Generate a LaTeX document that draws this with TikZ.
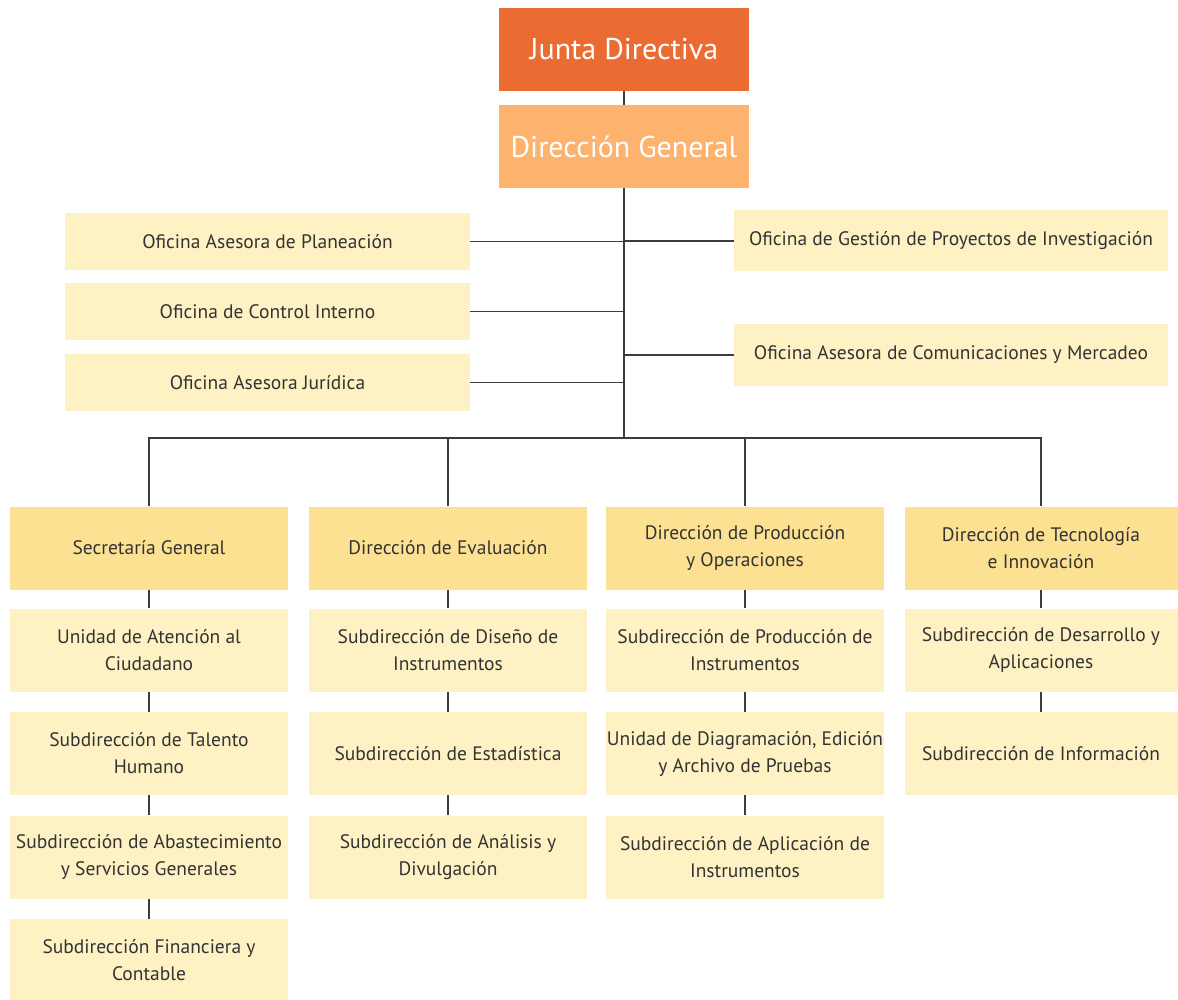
\documentclass[tikz,border=0pt]{standalone}
\usepackage{fontspec}
\setmainfont{PT Sans}
\usetikzlibrary{shapes,arrows,positioning}
\definecolor{juntaorange}{RGB}{235,108,51}
\definecolor{dirorange}{RGB}{253,178,109}
\definecolor{headyellow}{RGB}{253,225,146}
\definecolor{paleyellow}{RGB}{254,242,197}
\definecolor{textgray}{RGB}{51,51,51}
\definecolor{linegray}{RGB}{60,60,60}
\tikzstyle{topbox} = [rectangle, fill=juntaorange, text=white, inner sep=0pt,
    minimum width=250pt, minimum height=83pt, font=\fontsize{30}{35}\selectfont]
\tikzstyle{office} = [rectangle, fill=paleyellow, text=textgray, inner sep=0pt,
    minimum height=57pt, font=\fontsize{19.5}{27}\selectfont]
\tikzstyle{head} = [rectangle, fill=headyellow, text=textgray, inner sep=0pt, align=center,
    minimum width=278pt, minimum height=83pt, font=\fontsize{19.5}{27}\selectfont]
\tikzstyle{unit} = [head, fill=paleyellow]
\tikzstyle{link} = [draw, line width=1.4pt, linegray]

\begin{document}
\begin{tikzpicture}[x=1pt, y=-1pt, node distance = 103.5pt]
    \useasboundingbox (0,0) rectangle (1178,1000);
    % top of the chart
    \node[topbox] (junta) at (624,49.5) {Junta Directiva};
    \node[topbox, fill=dirorange] (dirgen) at (624,146.5) {Dirección General};

    % advisory offices
    \node[office, minimum width=405pt] (plan) at (267.5,241.5) {Oficina Asesora de Planeación};
    \node[office, minimum width=405pt] (control) at (267.5,311.5) {Oficina de Control Interno};
    \node[office, minimum width=405pt] (juridica) at (267.5,382.5) {Oficina Asesora Jurídica};
    \node[office, minimum width=434pt, minimum height=61pt] (gestion) at (951,241) {Oficina de Gestión de Proyectos de Investigación};
    \node[office, minimum width=434pt, minimum height=61pt] (comunic) at (951,355) {Oficina Asesora de Comunicaciones y Mercadeo};
    \coordinate (bus) at (624,438);

    % directions
    \node[head] (secgen) at (149,548) {Secretaría General};
    \node[head] (evalua) at (448,548) {Dirección de Evaluación};
    \node[head] (produc) at (745,548) {Dirección de Producción\\y Operaciones};
    \node[head, minimum width=273pt] (tecno) at (1041,548) {Dirección de Tecnología\\e Innovación};

    \node[unit, below of=secgen, yshift=1.5pt] (atencion) {Unidad de Atención al\\Ciudadano};
    \node[unit, below of=atencion] (talento) {Subdirección de Talento\\Humano};
    \node[unit, below of=talento] (abaste) {Subdirección de Abastecimiento\\y Servicios Generales};
    \node[unit, below of=abaste] (financ) {Subdirección Financiera y\\Contable};

    \node[unit, below of=evalua, yshift=1.5pt] (diseno) {Subdirección de Diseño de\\Instrumentos};
    \node[unit, below of=diseno] (estad) {Subdirección de Estadística};
    \node[unit, below of=estad] (analisis) {Subdirección de Análisis y\\Divulgación};

    \node[unit, below of=produc, yshift=1.5pt] (prodins) {Subdirección de Producción de\\Instrumentos};
    \node[unit, below of=prodins] (diagram) {Unidad de Diagramación, Edición\\y Archivo de Pruebas};
    \node[unit, below of=diagram] (aplica) {Subdirección de Aplicación de\\Instrumentos};

    \node[unit, minimum width=273pt, below of=tecno, yshift=1.5pt] (desarr) {Subdirección de Desarrollo y\\Aplicaciones};
    \node[unit, minimum width=273pt, below of=desarr] (informa) {Subdirección de Información};

    % connectors
    \path[link] (junta) -- (dirgen);
    \path[link] (dirgen.south) -- (bus);
    \foreach \o in {plan, control, juridica}
        \path[link] (\o.east) -- (\o.east -| bus);
    \foreach \o in {gestion, comunic}
        \path[link] (\o.west -| bus) -- (\o.west);
    \foreach \h in {secgen, evalua, produc, tecno}
        \path[link] (\h.north) |- (bus);
    \foreach \a/\b in {secgen/atencion, atencion/talento, talento/abaste, abaste/financ,
        evalua/diseno, diseno/estad, estad/analisis,
        produc/prodins, prodins/diagram, diagram/aplica,
        tecno/desarr, desarr/informa}
        \path[link] (\a) -- (\b);
\end{tikzpicture}
\end{document}
